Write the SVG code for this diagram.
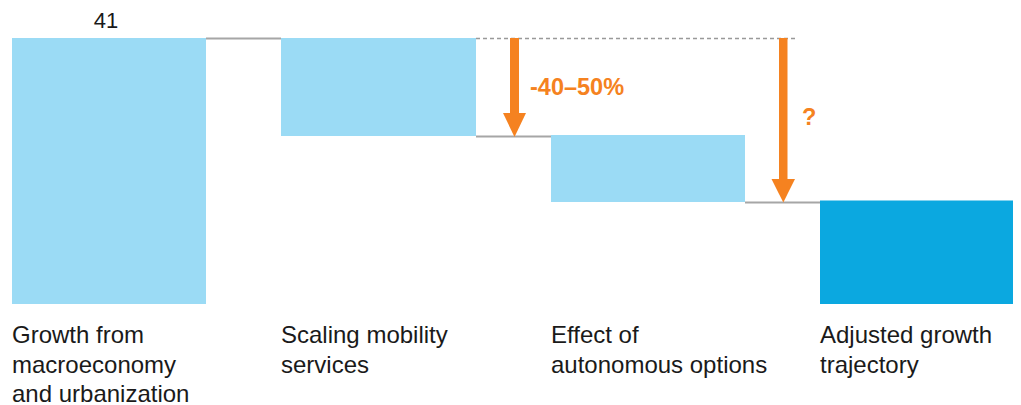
<svg xmlns="http://www.w3.org/2000/svg" width="1021" height="405" viewBox="0 0 1021 405">
<style>
.bar{fill:#9BDBF5}
.bar2{fill:#0BA8E0}
.conn{stroke:#A6A6A6;stroke-width:2;fill:none}
.dash{stroke:#999999;stroke-width:1.5;stroke-dasharray:4 3;fill:none}
.lbl{font-family:"Liberation Sans",Arial,sans-serif;font-size:24px;fill:#1a1a1a}
.val{font-family:"Liberation Sans",Arial,sans-serif;font-size:22px;fill:#1a1a1a}
.or{font-family:"Liberation Sans",Arial,sans-serif;font-size:23.5px;font-weight:bold;fill:#F58220}
.arr{fill:#F58220}
</style>
<rect width="1021" height="405" fill="#ffffff"/>
<g id="connectors">
<line class="conn" x1="206" y1="38.5" x2="281" y2="38.5"/>
<line class="dash" x1="476" y1="38.5" x2="795" y2="38.5"/>
<line class="conn" x1="476" y1="136.5" x2="551" y2="136.5"/>
<line class="conn" x1="745" y1="202.5" x2="820" y2="202.5"/>
</g>
<g id="bar1">
<rect class="bar" x="12" y="38" width="194" height="266"/>
<text class="val" x="106" y="28" text-anchor="middle">41</text>
<text class="lbl" x="12" y="343">Growth from</text>
<text class="lbl" x="12" y="372.5">macroeconomy</text>
<text class="lbl" x="12" y="402">and urbanization</text>
</g>
<g id="bar2">
<rect class="bar" x="281" y="38" width="195" height="98"/>
<text class="lbl" x="281" y="343">Scaling mobility</text>
<text class="lbl" x="281" y="372.5">services</text>
</g>
<g id="bar3">
<rect class="bar" x="551" y="135" width="194" height="67"/>
<text class="lbl" x="551" y="343">Effect of</text>
<text class="lbl" x="551" y="372.5">autonomous options</text>
</g>
<g id="bar4">
<rect class="bar2" x="820" y="200.5" width="193" height="103.5"/>
<text class="lbl" x="820" y="343">Adjusted growth</text>
<text class="lbl" x="820" y="372.5">trajectory</text>
</g>
<g id="arrow1">
<rect class="arr" x="510" y="38" width="9" height="76"/>
<polygon class="arr" points="503,113 526,113 514.5,137"/>
<text class="or" x="530" y="95">-40–50%</text>
</g>
<g id="arrow2">
<rect class="arr" x="779" y="38" width="8.5" height="142"/>
<polygon class="arr" points="771.5,179 795,179 783.3,202.5"/>
<text class="or" x="802" y="125">?</text>
</g>
</svg>
